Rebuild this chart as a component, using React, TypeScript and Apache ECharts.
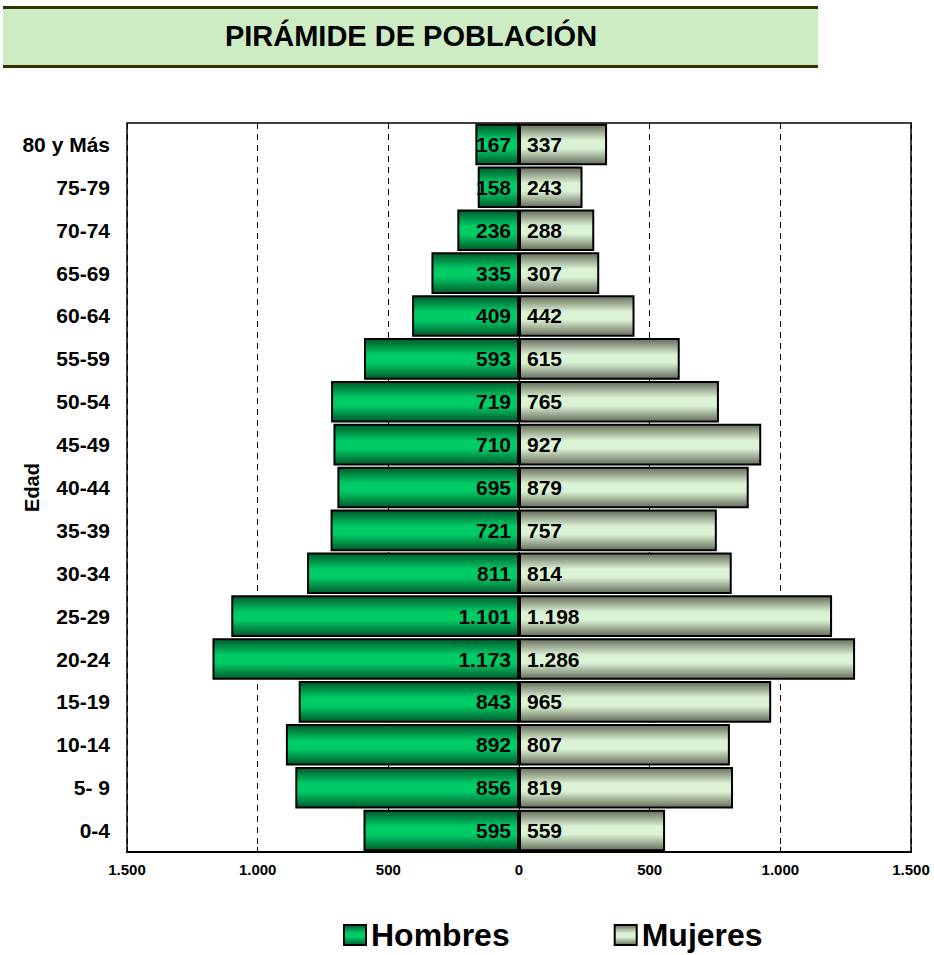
import React, { useEffect, useRef } from "react";
import * as echarts from "echarts";

const categories = ["0-4", "5- 9", "10-14", "15-19", "20-24", "25-29", "30-34", "35-39", "40-44", "45-49", "50-54", "55-59", "60-64", "65-69", "70-74", "75-79", "80 y Más"];
const hombres = [595, 856, 892, 843, 1173, 1101, 811, 721, 695, 710, 719, 593, 409, 335, 236, 158, 167];
const mujeres = [559, 819, 807, 965, 1286, 1198, 814, 757, 879, 927, 765, 615, 442, 307, 288, 243, 337];
const titleText = "PIRÁMIDE DE POBLACIÓN";
const axisName = "Edad";

const FONT = "'Liberation Sans', Arial, sans-serif";

function fmt(v: number): string {
  const a = Math.abs(Math.round(v));
  return a.toString().replace(/\B(?=(\d{3})+(?!\d))/g, ".");
}

function grad(dark: string, light: string) {
  return new echarts.graphic.LinearGradient(0, 0, 0, 1, [
    { offset: 0, color: dark },
    { offset: 0.4, color: light },
    { offset: 0.6, color: light },
    { offset: 1, color: dark },
  ]);
}

export default function App() {
  const ref = useRef<HTMLDivElement>(null);
  useEffect(() => {
    if (!ref.current) return;
    const chart = echarts.init(ref.current, undefined, { renderer: "svg" });
    const menColor = grad("#005a2c", "#00cc66");
    const womenColor = grad("#666e5c", "#dcf2d4");
    chart.setOption({
      animation: false,
      backgroundColor: "#ffffff",
      textStyle: { fontFamily: FONT },
      graphic: [
        { type: "rect", shape: { x: 3, y: 7, width: 815, height: 60 }, style: { fill: "#ccecc4" } },
        { type: "rect", shape: { x: 3, y: 6, width: 815, height: 3 }, style: { fill: "#333300" } },
        { type: "rect", shape: { x: 3, y: 65, width: 815, height: 3 }, style: { fill: "#333300" } },
        {
          type: "text",
          x: 411,
          y: 36,
          style: {
            text: titleText,
            font: `bold 29px ${FONT}`,
            fill: "#000000",
            textAlign: "center",
            textVerticalAlign: "middle",
          },
        },
      ],
      legend: {
        left: 343,
        top: 919,
        itemWidth: 22,
        itemHeight: 20,
        itemGap: 104,
        icon: "rect",
        padding: 0,
        textStyle: {
          fontSize: 32,
          lineHeight: 32,
          fontWeight: "bold",
          color: "#000",
          fontFamily: FONT,
        },
        data: ["Hombres", "Mujeres"],
      },
      grid: {
        left: 127,
        right: 23,
        top: 123,
        bottom: 103,
        show: true,
        borderColor: "#404040",
        borderWidth: 2,
        containLabel: false,
        outerBoundsMode: "none",
      },
      xAxis: {
        type: "value",
        min: -1500,
        max: 1500,
        interval: 500,
        axisLine: { show: true, lineStyle: { color: "#000", width: 2 } },
        axisTick: { show: true, inside: true, length: 5, lineStyle: { color: "#000", width: 1 } },
        axisLabel: {
          formatter: (v: number) => fmt(v),
          fontSize: 15,
          fontWeight: "bold",
          color: "#000",
          margin: 10,
          fontFamily: FONT,
        },
        splitLine: {
          show: true,
          lineStyle: { type: [6, 5], color: "#000", width: 1 },
        },
      },
      yAxis: {
        type: "category",
        data: categories,
        name: axisName,
        nameLocation: "middle",
        nameGap: 85,
        nameRotate: 90,
        nameMoveOverlap: false,
        nameTextStyle: { fontSize: 20, fontWeight: "bold", color: "#000", fontFamily: FONT },
        axisLine: { show: false },
        axisTick: { show: false },
        axisLabel: { fontSize: 21, fontWeight: "bold", color: "#000", margin: 17, fontFamily: FONT },
      },
      series: [
        {
          name: "Hombres",
          type: "bar",
          data: hombres.map((v) => -v),
          barCategoryGap: "3%",
          barGap: "-100%",
          itemStyle: { color: menColor, borderColor: "#000", borderWidth: 2 },
          label: {
            show: true,
            position: "insideRight",
            distance: 8,
            formatter: (p: any) => fmt(p.value),
            fontSize: 21,
            fontWeight: "bold",
            color: "#000",
            fontFamily: FONT,
          },
        },
        {
          name: "Mujeres",
          type: "bar",
          data: mujeres,
          barCategoryGap: "3%",
          barGap: "-100%",
          itemStyle: { color: womenColor, borderColor: "#000", borderWidth: 2 },
          label: {
            show: true,
            position: "insideLeft",
            distance: 8,
            formatter: (p: any) => fmt(p.value),
            fontSize: 21,
            fontWeight: "bold",
            color: "#000",
            fontFamily: FONT,
          },
        },
      ],
    });
    return () => chart.dispose();
  }, []);
  return (
    <div
      ref={ref}
      style={{ position: "fixed", left: 0, top: 0, width: 934, height: 955 }}
    />
  );
}
